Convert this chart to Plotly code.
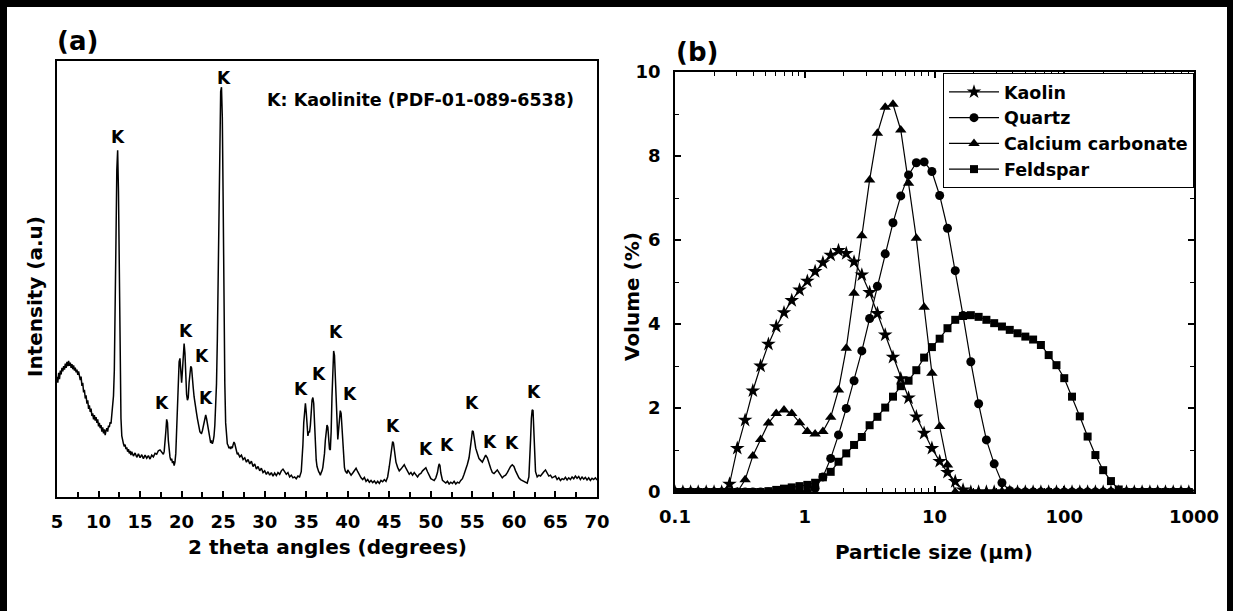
import plotly.graph_objects as go

# ---------------- (a) XRD pattern of kaolin ----------------
# (2-theta in degrees, intensity in arbitrary units)
xrd_points = [
    (5.0, 276), (5.1, 262), (5.2, 285), (5.3, 270), (5.4, 290), (5.5, 281), (5.6, 296), (5.7, 288),
    (5.8, 300), (5.9, 292), (6.0, 306), (6.1, 296), (6.2, 310), (6.3, 300), (6.4, 312), (6.5, 301),
    (6.6, 308), (6.7, 296), (6.8, 305), (6.9, 293), (7.0, 302), (7.1, 290), (7.2, 297), (7.3, 286),
    (7.4, 292), (7.5, 280), (7.6, 288), (7.7, 275), (7.8, 268), (7.9, 276), (8.0, 255), (8.1, 262),
    (8.2, 240), (8.3, 246), (8.4, 226), (8.5, 233), (8.6, 214), (8.7, 222), (8.8, 202), (8.9, 210),
    (9.0, 195), (9.1, 203), (9.2, 186), (9.3, 192), (9.4, 178), (9.5, 188), (9.6, 175), (9.7, 183),
    (9.8, 170), (9.9, 178), (10.0, 162), (10.1, 170), (10.2, 158), (10.3, 165), (10.4, 150), (10.5, 160),
    (10.6, 146), (10.7, 155), (10.8, 142), (10.9, 152), (11.0, 158), (11.1, 150), (11.2, 164), (11.3, 160),
    (11.4, 172), (11.5, 168), (11.6, 185), (11.7, 200), (11.8, 232), (11.9, 290), (12.0, 400), (12.1, 590),
    (12.2, 750), (12.3, 795), (12.4, 700), (12.5, 480), (12.6, 290), (12.7, 180), (12.8, 140), (12.9, 128),
    (13.0, 122), (13.1, 116), (13.2, 120), (13.3, 110), (13.4, 114), (13.5, 104), (13.6, 110), (13.7, 100),
    (13.8, 106), (13.9, 96), (14.0, 104), (14.2, 94), (14.4, 101), (14.6, 91), (14.8, 99), (15.0, 90),
    (15.2, 97), (15.4, 88), (15.6, 96), (15.8, 89), (16.0, 95), (16.2, 87), (16.4, 96), (16.6, 92),
    (16.8, 100), (17.0, 98), (17.2, 106), (17.4, 108), (17.6, 102), (17.8, 98), (17.9, 104), (18.0, 120),
    (18.1, 150), (18.2, 178), (18.3, 170), (18.4, 130), (18.5, 100), (18.6, 92), (18.7, 84), (18.8, 88),
    (18.9, 78), (19.0, 82), (19.1, 72), (19.2, 80), (19.3, 100), (19.4, 150), (19.5, 210), (19.6, 270),
    (19.7, 310), (19.8, 318), (19.9, 290), (20.0, 262), (20.1, 290), (20.2, 335), (20.3, 352), (20.4, 330),
    (20.5, 270), (20.6, 235), (20.7, 222), (20.8, 228), (20.9, 262), (21.0, 290), (21.1, 300), (21.2, 296),
    (21.3, 280), (21.4, 250), (21.5, 230), (21.6, 212), (21.7, 205), (21.8, 192), (21.9, 180), (22.0, 168),
    (22.1, 160), (22.2, 150), (22.3, 147), (22.4, 146), (22.5, 152), (22.6, 160), (22.7, 172), (22.8, 183),
    (22.9, 188), (23.0, 180), (23.1, 168), (23.2, 150), (23.3, 138), (23.4, 130), (23.5, 124), (23.6, 130),
    (23.7, 122), (23.8, 128), (23.9, 140), (24.0, 165), (24.1, 200), (24.2, 260), (24.3, 360), (24.4, 500),
    (24.5, 680), (24.6, 850), (24.7, 930), (24.8, 940), (24.9, 870), (25.0, 680), (25.1, 430), (25.2, 260),
    (25.3, 170), (25.4, 135), (25.5, 122), (25.6, 118), (25.7, 112), (25.8, 115), (25.9, 110), (26.0, 116),
    (26.1, 112), (26.2, 120), (26.3, 126), (26.4, 122), (26.5, 112), (26.6, 104), (26.7, 98), (26.8, 100),
    (27.0, 92), (27.2, 96), (27.4, 86), (27.6, 90), (27.8, 80), (28.0, 86), (28.2, 76), (28.4, 82),
    (28.6, 70), (28.8, 76), (29.0, 64), (29.2, 70), (29.4, 60), (29.6, 66), (29.8, 56), (30.0, 60),
    (30.2, 52), (30.4, 58), (30.6, 50), (30.8, 56), (31.0, 48), (31.2, 55), (31.4, 49), (31.6, 56),
    (31.8, 52), (32.0, 60), (32.2, 64), (32.4, 58), (32.6, 52), (32.8, 56), (33.0, 46), (33.2, 50),
    (33.4, 44), (33.6, 46), (33.8, 42), (34.0, 48), (34.2, 46), (34.4, 58), (34.5, 80), (34.6, 120),
    (34.7, 170), (34.8, 205), (34.9, 215), (35.0, 195), (35.1, 160), (35.2, 140), (35.3, 150), (35.4, 148),
    (35.5, 165), (35.6, 200), (35.7, 222), (35.8, 228), (35.9, 215), (36.0, 170), (36.1, 120), (36.2, 85),
    (36.3, 70), (36.4, 62), (36.5, 58), (36.6, 55), (36.7, 50), (36.8, 56), (36.9, 60), (37.0, 68),
    (37.1, 80), (37.2, 100), (37.3, 130), (37.4, 158), (37.5, 165), (37.6, 160), (37.7, 130), (37.8, 110),
    (37.9, 108), (38.0, 150), (38.1, 230), (38.2, 300), (38.3, 335), (38.4, 325), (38.5, 270), (38.6, 200),
    (38.7, 150), (38.8, 132), (38.9, 155), (39.0, 185), (39.1, 198), (39.2, 192), (39.3, 160), (39.4, 115),
    (39.5, 85), (39.6, 68), (39.7, 60), (39.8, 58), (39.9, 54), (40.0, 62), (40.2, 56), (40.4, 50),
    (40.6, 55), (40.8, 62), (41.0, 66), (41.2, 58), (41.4, 50), (41.6, 44), (41.8, 40), (42.0, 45),
    (42.2, 36), (42.4, 40), (42.6, 34), (42.8, 38), (43.0, 33), (43.2, 37), (43.4, 31), (43.6, 36),
    (43.8, 31), (44.0, 38), (44.2, 35), (44.4, 40), (44.6, 36), (44.8, 46), (45.0, 70), (45.2, 105),
    (45.3, 120), (45.4, 127), (45.5, 124), (45.6, 110), (45.7, 95), (45.8, 80), (46.0, 68), (46.2, 60),
    (46.4, 64), (46.6, 70), (46.8, 74), (47.0, 66), (47.2, 58), (47.4, 52), (47.6, 56), (47.8, 50),
    (48.0, 56), (48.2, 50), (48.4, 46), (48.6, 52), (48.8, 54), (49.0, 60), (49.2, 64), (49.4, 67),
    (49.6, 58), (49.8, 48), (50.0, 42), (50.2, 40), (50.4, 38), (50.6, 44), (50.8, 56), (50.9, 68),
    (51.0, 76), (51.1, 72), (51.2, 55), (51.4, 38), (51.6, 34), (51.8, 32), (52.0, 36), (52.2, 30),
    (52.4, 34), (52.6, 31), (52.8, 36), (53.0, 30), (53.2, 34), (53.4, 32), (53.6, 38), (53.8, 42),
    (54.0, 52), (54.2, 62), (54.4, 75), (54.6, 90), (54.8, 115), (54.9, 135), (55.0, 152), (55.1, 150),
    (55.2, 138), (55.3, 125), (55.4, 112), (55.6, 100), (55.8, 88), (56.0, 84), (56.2, 80), (56.4, 88),
    (56.6, 96), (56.8, 90), (57.0, 76), (57.2, 66), (57.4, 56), (57.6, 54), (57.8, 58), (58.0, 62),
    (58.2, 56), (58.4, 50), (58.6, 44), (58.8, 48), (59.0, 50), (59.2, 56), (59.4, 64), (59.6, 70),
    (59.8, 74), (60.0, 70), (60.2, 60), (60.4, 50), (60.6, 44), (60.8, 40), (61.0, 38), (61.2, 36),
    (61.4, 34), (61.6, 32), (61.8, 46), (61.9, 80), (62.0, 130), (62.1, 180), (62.2, 200), (62.3, 198),
    (62.4, 150), (62.5, 90), (62.6, 58), (62.8, 46), (63.0, 50), (63.2, 48), (63.4, 54), (63.6, 58),
    (63.8, 62), (64.0, 54), (64.2, 48), (64.4, 50), (64.6, 44), (64.8, 46), (65.0, 48), (65.2, 40),
    (65.4, 44), (65.6, 38), (65.8, 42), (66.0, 40), (66.2, 45), (66.4, 39), (66.6, 44), (66.8, 40),
    (67.0, 46), (67.2, 42), (67.4, 48), (67.6, 43), (67.8, 47), (68.0, 40), (68.2, 46), (68.4, 41),
    (68.6, 45), (68.8, 39), (69.0, 44), (69.2, 38), (69.4, 43), (69.6, 40), (69.8, 44), (70.0, 39),
]
two_theta = [p[0] for p in xrd_points]
intensity = [p[1] for p in xrd_points]

# kaolinite reflection labels: (2-theta, height of the "K")
k_label_x = [12.4, 25.1, 17.6, 20.5, 22.4, 22.9, 34.4, 36.5, 38.6, 40.3, 45.4, 49.4, 51.9, 55.0, 57.1, 59.8, 62.4]
k_label_y = [826, 961, 216, 381, 323, 227, 248, 282, 378, 236, 163, 110, 119, 216, 126, 124, 241]

# ---------------- (b) particle size distributions ----------------
particle_size = [
    0.100, 0.115, 0.132, 0.151, 0.174, 0.200, 0.229, 0.263, 0.302, 0.347,
    0.398, 0.457, 0.525, 0.603, 0.692, 0.794, 0.912, 1.047, 1.202, 1.380,
    1.585, 1.820, 2.089, 2.399, 2.754, 3.162, 3.631, 4.169, 4.786, 5.495,
    6.310, 7.244, 8.318, 9.550, 10.96, 12.59, 14.45, 16.60, 19.05, 21.88,
    25.12, 28.84, 33.11, 38.02, 43.65, 50.12, 57.54, 66.07, 75.86, 87.10,
    100.0, 114.8, 131.8, 151.4, 173.8, 199.5, 229.1, 263.0, 302.0, 346.7,
    398.1, 457.1, 524.8, 602.6, 691.8, 794.3, 912.0,
]
kaolin = [
    0, 0, 0, 0, 0, 0, 0, 0.19, 1.04, 1.71,
    2.41, 3.00, 3.52, 3.94, 4.27, 4.56, 4.81, 5.02, 5.25, 5.46,
    5.64, 5.75, 5.68, 5.48, 5.17, 4.75, 4.25, 3.74, 3.21, 2.70,
    2.24, 1.79, 1.40, 1.04, 0.73, 0.47, 0.25, 0.05, 0, 0,
    0, 0, 0, 0, 0, 0, 0, 0, 0, 0,
    0, 0, 0, 0, 0, 0, 0, 0, 0, 0,
    0, 0, 0, 0, 0, 0, 0,
]
quartz = [
    0, 0, 0, 0, 0, 0, 0, 0, 0, 0,
    0, 0, 0, 0, 0, 0, 0, 0, 0.09, 0.36,
    0.80, 1.36, 1.99, 2.65, 3.36, 4.13, 4.90, 5.67, 6.41, 7.05,
    7.55, 7.84, 7.86, 7.63, 7.06, 6.28, 5.27, 4.20, 3.10, 2.10,
    1.24, 0.67, 0.22, 0.03, 0, 0, 0, 0, 0, 0,
    0, 0, 0, 0, 0, 0, 0, 0, 0, 0,
    0, 0, 0, 0, 0, 0, 0,
]
calcium_carbonate = [
    0, 0, 0, 0, 0, 0, 0, 0, 0, 0.29,
    0.86, 1.25, 1.64, 1.87, 1.95, 1.87, 1.65, 1.44, 1.38, 1.44,
    1.78, 2.43, 3.42, 4.73, 6.10, 7.43, 8.54, 9.16, 9.23, 8.62,
    7.35, 6.04, 4.40, 2.83, 1.56, 0.64, 0, 0, 0, 0,
    0, 0, 0, 0, 0, 0, 0, 0, 0, 0,
    0, 0, 0, 0, 0, 0, 0, 0, 0, 0,
    0, 0, 0, 0, 0, 0, 0,
]
feldspar = [
    0, 0, 0, 0, 0, 0, 0, 0, 0, 0,
    0, 0, 0.02, 0.05, 0.08, 0.11, 0.14, 0.17, 0.22, 0.35,
    0.48, 0.72, 0.92, 1.12, 1.31, 1.59, 1.79, 2.01, 2.27, 2.52,
    2.65, 2.90, 3.20, 3.45, 3.65, 3.90, 4.10, 4.19, 4.21, 4.17,
    4.10, 4.02, 3.94, 3.86, 3.78, 3.70, 3.63, 3.50, 3.26, 3.02,
    2.71, 2.27, 1.80, 1.32, 0.88, 0.52, 0.26, 0.06, 0, 0,
    0, 0, 0, 0, 0, 0, 0,
]

series = [
    ("Kaolin", kaolin, "star", 11),
    ("Quartz", quartz, "circle", 9),
    ("Calcium carbonate", calcium_carbonate, "triangle-up", 10),
    ("Feldspar", feldspar, "square", 8),
]

W, H = 1233, 611
FONT = "DejaVu Sans, Verdana, sans-serif"


def px(x):
    return x / W


def py(y):
    return 1 - y / H


def label(x, y, text, size, xref="paper", yref="paper", angle=0):
    return dict(
        x=x, y=y, xref=xref, yref=yref, text=text, showarrow=False,
        xanchor="center", yanchor="middle", textangle=angle,
        font=dict(family=FONT, size=size, color="black", weight="bold"),
    )


fig = go.Figure()

fig.add_trace(go.Scatter(
    x=two_theta, y=intensity, mode="lines",
    line=dict(color="black", width=1.5),
    xaxis="x", yaxis="y", showlegend=False, hoverinfo="skip",
))

for name, values, symbol, size in series:
    fig.add_trace(go.Scatter(
        x=particle_size, y=values, name=name, mode="lines+markers",
        line=dict(color="black", width=1.2),
        marker=dict(symbol=symbol, size=size, color="black"),
        xaxis="x2", yaxis="y2",
    ))

annotations = [label(kx, ky, "K", 17, "x", "y") for kx, ky in zip(k_label_x, k_label_y)]
annotations += [
    label(48.8, 910, "K: Kaolinite (PDF-01-089-6538)", 17.5, "x", "y"),
    label(px(77), py(41), "(a)", 26),
    label(px(697), py(52), "(b)", 26),
    label(px(327), py(547), "2 theta angles (degrees)", 20),
    label(px(934), py(552), "Particle size (\u03bcm)", 20),
    label(px(35), py(297), "Intensity (a.u)", 20, angle=-90),
    label(px(632), py(297), "Volume (%)", 20, angle=-90),
]

# outer frame (left, top, right edges)
shapes = [
    dict(type="line", xref="paper", yref="paper", x0=px(3.5), x1=px(3.5), y0=0, y1=1,
         line=dict(color="black", width=7)),
    dict(type="line", xref="paper", yref="paper", x0=0, x1=1, y0=py(3.5), y1=py(3.5),
         line=dict(color="black", width=7)),
    dict(type="line", xref="paper", yref="paper", x0=px(1230), x1=px(1230), y0=0, y1=1,
         line=dict(color="black", width=6)),
]

tick_font = dict(family=FONT, size=18, color="black", weight="bold")

decades = [0.1, 1, 10, 100]
minor_vals = [d * m for d in decades for m in range(2, 10)]

fig.update_layout(
    width=W, height=H,
    margin=dict(l=0, r=0, t=0, b=0, pad=0, autoexpand=False),
    paper_bgcolor="white", plot_bgcolor="white",
    font=dict(family=FONT, color="black"),
    xaxis=dict(
        domain=[px(57), px(597)], anchor="y", range=[5, 70],
        tickmode="array", tickvals=list(range(5, 71, 5)),
        ticks="inside", ticklen=6, tickwidth=1.5, tickcolor="black",
        minor=dict(tickvals=[x + 2.5 for x in range(5, 70, 5)], ticks="inside",
                   ticklen=5, tickwidth=1.5, tickcolor="black"),
        showline=True, linecolor="black", linewidth=1.5, mirror=True,
        showgrid=False, zeroline=False, tickfont=tick_font, ticklabelstandoff=8,
    ),
    yaxis=dict(
        domain=[py(497), py(61)], anchor="x", range=[0, 1000],
        showticklabels=False, ticks="",
        showline=True, linecolor="black", linewidth=1.5, mirror=True,
        showgrid=False, zeroline=False,
    ),
    xaxis2=dict(
        domain=[px(675), px(1194)], anchor="y2", type="log", range=[-1, 3],
        tickmode="array", tickvals=[0.1, 1, 10, 100, 1000],
        ticktext=["0.1", "1", "10", "100", "1000"],
        ticks="inside", ticklen=6, tickwidth=1.5, tickcolor="black",
        minor=dict(tickvals=minor_vals, ticks="inside", ticklen=4, tickwidth=1.2, tickcolor="black"),
        showline=True, linecolor="black", linewidth=1.5, mirror="ticks",
        showgrid=False, zeroline=False, tickfont=tick_font, ticklabelstandoff=8,
    ),
    yaxis2=dict(
        domain=[py(492), py(72)], anchor="x2", range=[0, 10],
        tickmode="array", tickvals=[0, 2, 4, 6, 8, 10],
        ticks="inside", ticklen=6, tickwidth=1.5, tickcolor="black",
        minor=dict(tickvals=[1, 3, 5, 7, 9], ticks="inside", ticklen=4, tickwidth=1.2, tickcolor="black"),
        showline=True, linecolor="black", linewidth=1.5, mirror="ticks",
        showgrid=False, zeroline=False, tickfont=tick_font, ticklabelstandoff=9,
    ),
    legend=dict(
        x=px(1194), y=py(73), xanchor="right", yanchor="top",
        bgcolor="white", bordercolor="black", borderwidth=1,
        font=dict(family=FONT, size=17.5, color="black", weight="bold"),
        itemwidth=50, tracegroupgap=0,
    ),
    annotations=annotations,
    shapes=shapes,
)

fig.write_html(
    "out.html",
    post_script=(
        "document.documentElement.style.margin='0';"
        "document.documentElement.style.padding='0';"
        "document.body.style.margin='0';document.body.style.padding='0';"
        "document.body.style.overflow='hidden';"
    ),
)
